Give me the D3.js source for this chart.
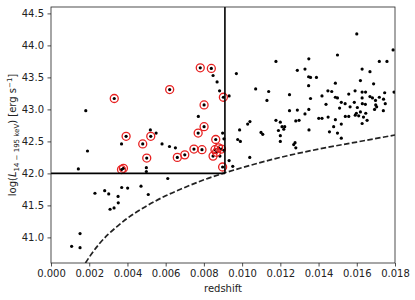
<!DOCTYPE html>
<html>
<head>
<meta charset="utf-8">
<script src="https://cdn.jsdelivr.net/npm/d3@7"></script>
<style>
  body { margin: 0; background: #fff; }
  text { font-family: "DejaVu Sans", sans-serif; fill: #222; }
</style>
</head>
<body>
<div id="chart"></div>
<script>
// Chart size and plot box
const width = 415, height = 300;
const margin = { top: 7, right: 20, bottom: 37, left: 51 };

// Tick values
const xTicks = [0, 0.002, 0.004, 0.006, 0.008, 0.010, 0.012, 0.014, 0.016, 0.018];
const yTicks = [41.0, 41.5, 42.0, 42.5, 43.0, 43.5, 44.0, 44.5];

// Selection box corner (redshift cut, luminosity cut)
const cutZ = 0.0091;
const cutL = 42.0;

// Flux-limit curve
const limitZ = [0.0018, 0.002, 0.0025, 0.003, 0.0035, 0.004, 0.005, 0.006, 0.007, 0.008, 0.009, 0.010, 0.012, 0.014, 0.016, 0.018];
const limitL = [40.60, 40.69, 40.89, 41.05, 41.18, 41.30, 41.49, 41.65, 41.78, 41.90, 42.00, 42.09, 42.25, 42.38, 42.49, 42.60];

// All sources (black dots)
const srcZ = [
  0.00182, 0.00191, 0.00143, 0.00369, 0.00520, 0.00550, 0.00581, 0.00620, 0.00651, 0.00499,
  0.00499, 0.00611, 0.00771, 0.00848, 0.00869, 0.00882, 0.00898, 0.00905, 0.00884, 0.00905,
  0.00932, 0.00932, 0.00951, 0.00987, 0.00977, 0.00991, 0.00970,
  0.00230, 0.00281, 0.00302, 0.00370, 0.00401, 0.00471, 0.00509, 0.00351, 0.00352, 0.00330,
  0.00309, 0.00152, 0.00108, 0.00152,
  0.01177, 0.01289, 0.01329, 0.01348, 0.01071, 0.01139, 0.01130, 0.01248, 0.01348, 0.01248,
  0.01289, 0.01329, 0.01349, 0.01177, 0.01200, 0.01209, 0.01223, 0.01218, 0.01190, 0.01281,
  0.01298, 0.01350, 0.01041, 0.01029, 0.01099, 0.01108, 0.01200, 0.01200, 0.01277, 0.01270,
  0.01281, 0.01040,
  0.01600, 0.01790, 0.01349, 0.01499, 0.01718, 0.01758, 0.01628, 0.01669, 0.01358, 0.01389,
  0.01619, 0.01488, 0.01688, 0.01449, 0.01469, 0.01558, 0.01591, 0.01628, 0.01646, 0.01746,
  0.01795, 0.01418, 0.01488, 0.01499, 0.01669, 0.01682, 0.01718, 0.01358, 0.01519, 0.01539,
  0.01587, 0.01628, 0.01629, 0.01698, 0.01740, 0.01749, 0.01439, 0.01510, 0.01565, 0.01603,
  0.01645, 0.01699, 0.01704, 0.01693, 0.01739, 0.01619, 0.01647, 0.01592, 0.01540, 0.01558,
  0.01598, 0.01450, 0.01401, 0.01418, 0.01488, 0.01635, 0.01654, 0.01628, 0.01519, 0.01479,
  0.01457, 0.01499, 0.01519, 0.01610
];
const srcL = [
  42.98, 42.35, 42.07, 42.46, 42.68, 42.63, 42.46, 42.42, 42.40, 42.09,
  42.03, 41.92, 42.89, 43.53, 43.43, 43.29, 42.63, 42.54, 42.27, 42.36,
  43.21, 42.20, 42.11, 42.68, 42.53, 42.50, 43.56,
  41.69, 41.73, 41.68, 41.78, 41.77, 41.80, 41.67, 41.64, 41.54, 41.46,
  41.44, 41.06, 40.86, 40.84,
  43.75, 43.61, 43.63, 43.51, 43.32, 43.28, 43.14, 43.23, 43.37, 42.98,
  42.99, 42.93, 43.00, 42.83, 42.80, 42.73, 42.73, 42.69, 42.67, 42.82,
  42.83, 42.68, 42.81, 42.77, 42.64, 42.61, 42.59, 42.50, 42.48, 42.45,
  42.40, 42.25,
  44.18, 43.93, 43.79, 43.85, 43.75, 43.75, 43.63, 43.59, 43.50, 43.50,
  43.45, 43.41, 43.40, 43.29, 43.28, 43.24, 43.29, 43.27, 43.27, 43.26,
  43.27, 43.21, 43.19, 43.18, 43.20, 43.18, 43.19, 43.17, 43.11, 43.09,
  43.11, 43.18, 43.09, 43.14, 43.16, 43.09, 43.08, 43.02, 43.04, 43.03,
  43.08, 43.07, 43.04, 43.00, 42.98, 42.96, 42.94, 42.91, 42.89, 42.89,
  42.94, 42.88, 42.86, 42.86, 42.84, 42.88, 42.83, 42.78, 42.77, 42.73,
  42.65, 42.63, 42.55, 42.90
];

// Sources marked with a red ring
const ringZ = [
  0.00331, 0.00369, 0.00379, 0.00393, 0.00480, 0.00501, 0.00522, 0.00621, 0.00661, 0.00700,
  0.00748, 0.00781, 0.00790, 0.00770, 0.00801, 0.00801, 0.00839, 0.00902, 0.00862, 0.00848,
  0.00858, 0.00877, 0.00892, 0.00898, 0.00866
];
const ringL = [
  43.17, 42.06, 42.08, 42.58, 42.46, 42.24, 42.58, 43.31, 42.25, 42.29,
  42.38, 43.65, 42.37, 42.63, 43.07, 42.73, 43.64, 43.19, 42.53, 42.27,
  42.37, 42.40, 42.38, 42.10, 42.33
];

const svg = d3.select("#chart").append("svg")
    .attr("width", width)
    .attr("height", height);

const x = d3.scaleLinear().domain([0, 0.018]).range([margin.left, width - margin.right]);
const y = d3.scaleLinear().domain([40.6, 44.6]).range([height - margin.bottom, margin.top]);

svg.append("clipPath").attr("id", "plot")
  .append("rect")
    .attr("x", margin.left).attr("y", margin.top)
    .attr("width", x.range()[1] - margin.left)
    .attr("height", y.range()[0] - margin.top);

const plot = svg.append("g").attr("clip-path", "url(#plot)");

// Dashed flux limit
const limit = limitZ.map((z, i) => [z, limitL[i]]);
plot.append("path")
    .datum(limit)
    .attr("fill", "none")
    .attr("stroke", "#222")
    .attr("stroke-width", 1.7)
    .attr("stroke-dasharray", "5.5,2.4")
    .attr("d", d3.line().x(d => x(d[0])).y(d => y(d[1])).curve(d3.curveMonotoneX));

// Black dots (ringed sources also get a dot)
const dots = srcZ.map((z, i) => [z, srcL[i]]).concat(ringZ.map((z, i) => [z, ringL[i]]));
plot.selectAll("circle.src")
  .data(dots)
  .join("circle")
    .attr("class", "src")
    .attr("cx", d => x(d[0]))
    .attr("cy", d => y(d[1]))
    .attr("r", 1.6)
    .attr("fill", "#000");

// Red rings
plot.selectAll("circle.ring")
  .data(ringZ.map((z, i) => [z, ringL[i]]))
  .join("circle")
    .attr("class", "ring")
    .attr("cx", d => x(d[0]))
    .attr("cy", d => y(d[1]))
    .attr("r", 4)
    .attr("fill", "none")
    .attr("stroke", "#e82020")
    .attr("stroke-width", 1.3);

// Selection box lines
plot.append("line")
    .attr("x1", x(0)).attr("x2", x(cutZ))
    .attr("y1", y(cutL)).attr("y2", y(cutL))
    .attr("stroke", "#000").attr("stroke-width", 1.6);
plot.append("line")
    .attr("x1", x(cutZ)).attr("x2", x(cutZ))
    .attr("y1", y(cutL)).attr("y2", y(44.6))
    .attr("stroke", "#000").attr("stroke-width", 1.6);

// Axes
const xAxis = svg.append("g")
    .attr("transform", `translate(0,${y.range()[0]})`)
    .call(d3.axisBottom(x).tickValues(xTicks).tickFormat(d3.format(".3f")).tickSize(3.5).tickPadding(3.5));
const yAxis = svg.append("g")
    .attr("transform", `translate(${margin.left},0)`)
    .call(d3.axisLeft(y).tickValues(yTicks).tickFormat(d3.format(".1f")).tickSize(3.5).tickPadding(3.5));

[xAxis, yAxis].forEach(a => {
  a.select(".domain").remove();
  a.selectAll(".tick line").attr("stroke", "#222").attr("stroke-width", 0.8);
  a.selectAll(".tick text").attr("font-size", 10).attr("font-family", "DejaVu Sans").attr("fill", "#222");
});

// Frame
svg.append("rect")
    .attr("x", margin.left).attr("y", margin.top)
    .attr("width", x.range()[1] - margin.left)
    .attr("height", y.range()[0] - margin.top)
    .attr("fill", "none")
    .attr("stroke", "#222")
    .attr("stroke-width", 0.8);

// Axis titles
svg.append("text")
    .attr("x", (x.range()[0] + x.range()[1]) / 2)
    .attr("y", 292)
    .attr("text-anchor", "middle")
    .attr("font-size", 10)
    .text("redshift");

const yl = svg.append("text")
    .attr("transform", `translate(16,${(y.range()[0] + y.range()[1]) / 2}) rotate(-90)`)
    .attr("text-anchor", "middle")
    .attr("font-size", 10);
yl.append("tspan").text("log(");
yl.append("tspan").attr("font-style", "italic").text("L");
yl.append("tspan").attr("font-size", 7).attr("dy", 2.5).text("14 − 195 keV");
yl.append("tspan").attr("dy", -2.5).text(") [erg s");
yl.append("tspan").attr("font-size", 7).attr("dy", -4).text("−1");
yl.append("tspan").attr("dy", 4).text("]");
</script>
</body>
</html>
